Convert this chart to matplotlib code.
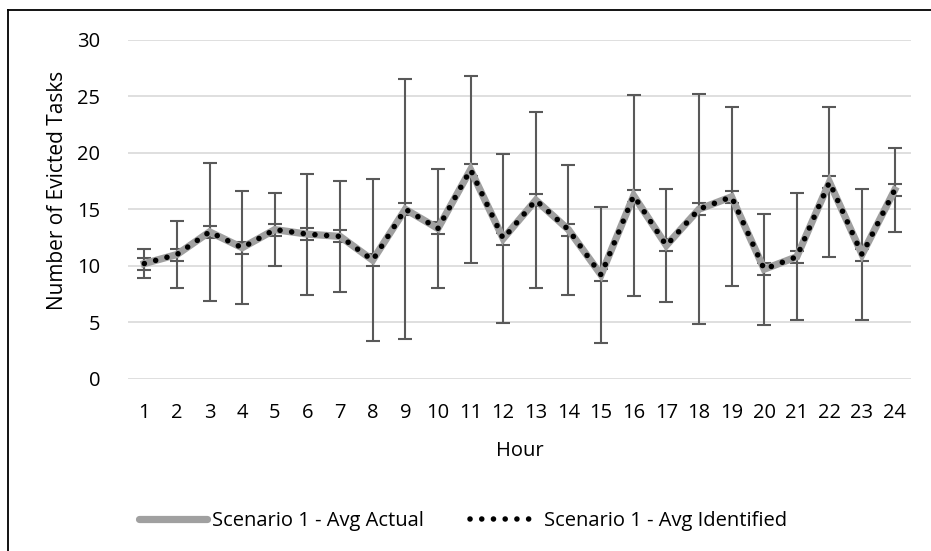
import matplotlib.pyplot as plt
from matplotlib.lines import Line2D

hours = list(range(1, 25))
avg_actual = [10.2, 11.0, 13.0, 11.6, 13.2, 12.8, 12.6, 10.5, 15.0, 13.3, 18.5, 12.4,
              15.8, 13.2, 9.2, 16.2, 11.8, 15.0, 16.1, 9.7, 10.8, 17.4, 11.0, 16.7]
avg_identified = [10.2, 11.0, 13.0, 11.6, 13.2, 12.8, 12.6, 10.5, 15.0, 13.3, 18.5, 12.4,
                  15.8, 13.2, 9.2, 16.2, 11.8, 15.0, 16.1, 9.7, 10.8, 17.4, 11.0, 16.7]
sd_actual = [1.3, 3.0, 6.1, 5.0, 3.2, 5.35, 4.9, 7.15, 11.5, 5.25, 8.25, 7.45,
             7.8, 5.75, 6.0, 8.9, 5.0, 10.15, 7.9, 4.9, 5.6, 6.65, 5.8, 3.7]
sd_identified = [0.53] * 24

plt.rcParams['font.family'] = ['Open Sans', 'DejaVu Sans']
FS = 14.5
dots = (0, (0.01, 2.1))

fig = plt.figure(figsize=(9.31, 5.51), dpi=100)
ax = fig.add_axes([0.1375, 0.3122, 0.841, 0.6161])

bar_style = dict(fmt='none', ecolor='#595959', elinewidth=1.5, capsize=4.7,
                 capthick=1.5, zorder=2)
ax.errorbar(hours, avg_actual, yerr=sd_actual, **bar_style)
ax.errorbar(hours, avg_identified, yerr=sd_identified, **bar_style)

ax.plot(hours, avg_actual, color='#A0A0A0', linewidth=5.2,
        solid_joinstyle='miter', zorder=3, label='Scenario 1 - Avg Actual')
ax.plot(hours, avg_identified, color='black', linewidth=4.0,
        linestyle=dots, dash_capstyle='round', zorder=4,
        label='Scenario 1 - Avg Identified')

ax.set_xlim(0.5, 24.5)
ax.set_ylim(0, 30)
ax.set_xticks(hours)
ax.set_yticks(range(0, 31, 5))
ax.tick_params(length=0, labelsize=FS, pad=17)
ax.tick_params(axis='y', pad=20)
ax.grid(axis='y', color='#D9D9D9', linewidth=1.2)
ax.set_axisbelow(True)
for s in ax.spines.values():
    s.set_visible(False)

ax.set_xlabel('Hour', fontsize=FS, labelpad=13)
ax.set_ylabel('Number of Evicted Tasks', fontsize=FS + 0.5)
ax.yaxis.set_label_coords(-0.077, 0.557)

handles = [Line2D([], [], color='#A0A0A0', linewidth=5.2, solid_capstyle='round'),
           Line2D([], [], color='black', linewidth=4.0, linestyle=dots,
                  dash_capstyle='round')]
fig.legend(handles, ['Scenario 1 - Avg Actual', 'Scenario 1 - Avg Identified'],
           loc='center', bbox_to_anchor=(0.497, 0.054), ncol=2, frameon=False,
           fontsize=FS, handlelength=3.4, handletextpad=0.25, columnspacing=2.3)

# chart frame
fig.add_artist(Line2D([0.009, 0.009], [0, 0.982], color='black', linewidth=1.3,
                      transform=fig.transFigure))
fig.add_artist(Line2D([0.009, 1.0], [0.982, 0.982], color='black', linewidth=1.3,
                      transform=fig.transFigure))

fig.savefig('out.png', dpi=100)
